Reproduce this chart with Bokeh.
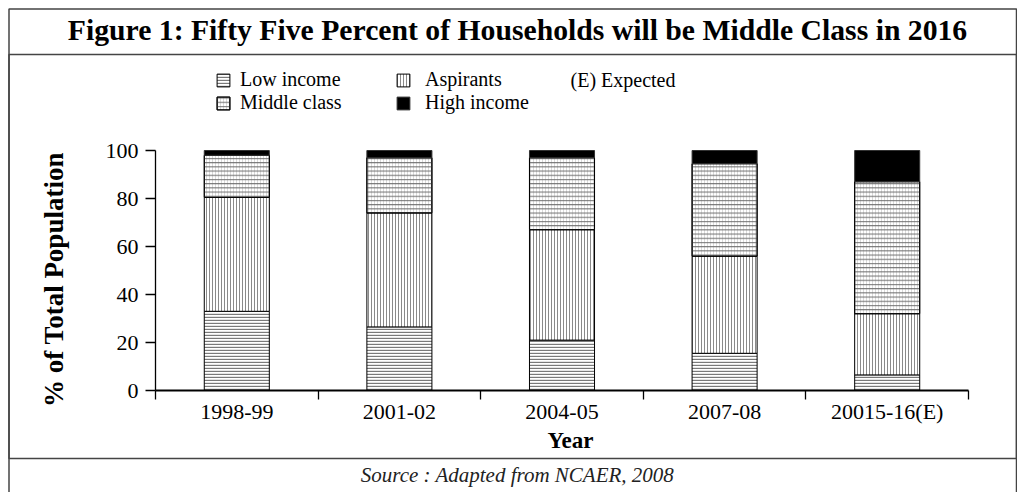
import numpy as np
from bokeh.plotting import figure
from bokeh.models import Range1d, FixedTicker, BoxAnnotation, Label, Legend, LegendItem
from bokeh.embed import file_html
from bokeh.resources import INLINE

# ---- data ----
years = ["1998-99", "2001-02", "2004-05", "2007-08", "20015-16(E)"]
low_income = [33, 26.5, 21, 15.5, 6.5]
aspirants = [47.5, 47.5, 46, 40.5, 25.5]
middle_class = [17.5, 23, 30, 38.5, 55]
high_income = [2, 3, 3, 5.5, 13]
y_ticks = [0, 20, 40, 60, 80, 100]
series_names = ["Low income", "Aspirants", "Middle class", "High income"]

title_text = "Figure 1: Fifty Five Percent of Households will be Middle Class in 2016"
source_text = "Source : Adapted from NCAER, 2008"
expected_note = "(E) Expected"
x_title = "Year"
y_title = "% of Total Population"

FONT = "Liberation Serif"

# ---- layout (pixels on the canvas) ----
CW, CH = 1017, 492
PX_LEFT, PX_RIGHT = 155, 968      # x-axis extent
PX_TOP, PX_BOTTOM = 150, 390      # y-axis extent (0..100)
ncat = len(years)
sx = (PX_RIGHT - PX_LEFT) / ncat
sy = (PX_BOTTOM - PX_TOP) / 100.0
x0 = -PX_LEFT / sx
x1 = ncat + (CW - PX_RIGHT) / sx
y1 = 100 + PX_TOP / sy
y0 = -(CH - PX_BOTTOM) / sy


def dx(px):
    return x0 + px / sx


def dy(py):
    return y1 - py / sy


xpos = np.arange(ncat) + 0.5
b1 = np.array(low_income, float)
b2 = b1 + np.array(aspirants, float)
b3 = b2 + np.array(middle_class, float)
b4 = b3 + np.array(high_income, float)

p = figure(width=CW, height=CH, output_backend="svg", toolbar_location=None,
           x_range=Range1d(x0, x1), y_range=Range1d(y0, y1),
           min_border=0, min_border_left=0, min_border_right=0,
           min_border_top=0, min_border_bottom=0)
p.outline_line_color = None
p.grid.visible = False

W = 0.4
r_low = p.vbar(x=xpos, bottom=0, top=b1, width=W, fill_color="white",
               line_color="black", line_width=1,
               hatch_pattern="horizontal_line", hatch_scale=3,
               hatch_color="#7a7a7a", hatch_weight=1.4)
r_asp = p.vbar(x=xpos, bottom=b1, top=b2, width=W, fill_color="white",
               line_color="black", line_width=1,
               hatch_pattern="vertical_line", hatch_scale=3,
               hatch_color="#8a8a8a", hatch_weight=1)
r_mid_v = p.vbar(x=xpos, bottom=b2, top=b3, width=W, fill_color="white",
                 line_color="black", line_width=1,
                 hatch_pattern="vertical_line", hatch_scale=3,
                 hatch_color="#dadada", hatch_weight=1)
r_mid_h = p.vbar(x=xpos, bottom=b2, top=b3, width=W, fill_color=None,
                 line_color="black", line_width=1,
                 hatch_pattern="horizontal_line", hatch_scale=4.2,
                 hatch_color="#6a6a6a", hatch_weight=1)
r_high = p.vbar(x=xpos, bottom=b3, top=b4, width=W, fill_color="black",
                line_color="#333333", line_width=1)

# ---- axes ----
yax = p.yaxis[0]
yax.fixed_location = 0
yax.bounds = (0, 100)
yax.ticker = FixedTicker(ticks=y_ticks)
yax.major_label_text_font = FONT
yax.major_label_text_font_size = "22px"
yax.major_label_text_color = "black"
yax.major_label_standoff = 7
yax.major_tick_out = 10
yax.major_tick_in = 0
yax.minor_tick_line_color = None
yax.axis_line_color = "black"
yax.axis_line_width = 1.3
yax.major_tick_line_color = "black"
yax.major_tick_line_width = 1.3

xax = p.xaxis[0]
xax.fixed_location = 0
xax.bounds = (0, ncat)
xax.ticker = FixedTicker(ticks=list(xpos), minor_ticks=list(range(ncat + 1)))
xax.major_label_overrides = {float(x): y for x, y in zip(xpos, years)}
xax.major_tick_line_color = None
xax.major_tick_out = 0
xax.major_tick_in = 0
xax.minor_tick_line_color = "black"
xax.minor_tick_line_width = 1.3
xax.minor_tick_out = 9
xax.minor_tick_in = 0
xax.major_label_text_font = FONT
xax.major_label_text_font_size = "22px"
xax.major_label_text_color = "black"
xax.major_label_standoff = -1
xax.axis_line_color = "black"
xax.axis_line_width = 2

# axis titles placed as labels
p.add_layout(Label(x=dx(53), y=dy(279), text=y_title, angle=np.pi / 2,
                   text_font=FONT, text_font_size="27px", text_font_style="bold",
                   text_color="black", text_align="center", text_baseline="middle"))
p.add_layout(Label(x=dx(570), y=dy(440), text=x_title,
                   text_font=FONT, text_font_size="23px", text_font_style="bold",
                   text_color="black", text_align="center", text_baseline="middle"))

# ---- legend ----
leg1 = Legend(items=[LegendItem(label=series_names[0], renderers=[r_low]),
                     LegendItem(label=series_names[2], renderers=[r_mid_v, r_mid_h])],
              location=(215, 378))
leg2 = Legend(items=[LegendItem(label=series_names[1], renderers=[r_asp]),
                     LegendItem(label=series_names[3], renderers=[r_high])],
              location=(395, 378))
for lg, standoff in ((leg1, 9), (leg2, 14)):
    lg.label_text_font = FONT
    lg.label_text_font_size = "20px"
    lg.label_text_color = "black"
    lg.glyph_width = 16
    lg.glyph_height = 16
    lg.label_height = 23
    lg.label_standoff = standoff
    lg.spacing = 0
    lg.padding = 0
    lg.margin = 0
    lg.border_line_color = None
    lg.background_fill_color = None
    lg.click_policy = "none"
    p.add_layout(lg, "center")

p.add_layout(Label(x=dx(570), y=dy(79), text=expected_note,
                   text_font=FONT, text_font_size="20px", text_color="black",
                   text_baseline="middle", text_align="left"))

# ---- frame lines, title, source ----
p.add_layout(BoxAnnotation(left=dx(8.5), right=dx(1016), top=dy(8.5), bottom=dy(700),
                           fill_color=None, line_color="#444444", line_alpha=1.0,
                           line_width=1.5))
p.add_layout(BoxAnnotation(left=dx(8.5), right=dx(1016), top=dy(54), bottom=dy(458),
                           fill_color=None, line_color="#444444", line_alpha=1.0,
                           line_width=1.5))
p.add_layout(Label(x=dx(517), y=dy(29), text=title_text,
                   text_font=FONT, text_font_size="29.7px", text_font_style="bold",
                   text_color="black", text_align="center", text_baseline="middle"))
p.add_layout(Label(x=dx(517), y=dy(474), text=source_text,
                   text_font=FONT, text_font_size="21px", text_font_style="italic",
                   text_color="#222222", text_align="center", text_baseline="middle"))

open("out.html", "w").write(file_html(p, INLINE))
